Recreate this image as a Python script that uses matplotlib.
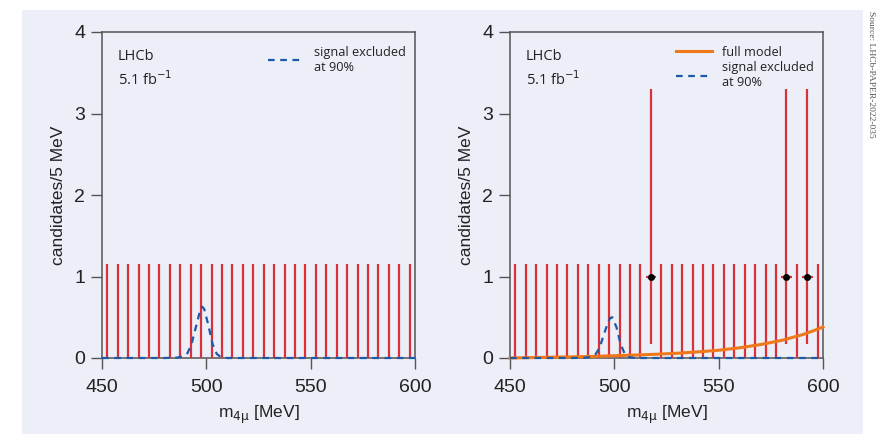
import numpy as np
import matplotlib
matplotlib.use("Agg")
import matplotlib.pyplot as plt

# ---- data ----
bin_centres = [452.5 + 5 * i for i in range(30)]
counts_left = [0] * 30
counts_right = [0] * 30
for m in (517.5, 582.5, 592.5):
    counts_right[bin_centres.index(m)] = 1
# Poisson 68% intervals
err_lo = {0: 0.0, 1: 0.83}
err_hi = {0: 1.15, 1: 2.30}

sig_x = [450, 480, 486, 489, 491, 493, 495, 497, 498, 499, 501, 503, 505, 507, 510, 600]
sig_left = [0, 0, 0.005, 0.02, 0.06, 0.18, 0.38, 0.58, 0.63, 0.60, 0.40, 0.17, 0.05, 0.01, 0, 0]
sig_right = [0, 0, 0.004, 0.015, 0.045, 0.13, 0.29, 0.44, 0.49, 0.50, 0.38, 0.17, 0.05, 0.01, 0, 0]

model_x = [450, 460, 470, 480, 490, 500, 510, 520, 530, 540, 550, 560, 570, 580, 585, 590, 595, 600]
model_y = [0.0, 0.005, 0.01, 0.014, 0.02, 0.028, 0.036, 0.046, 0.058, 0.075, 0.095, 0.125, 0.165, 0.215, 0.25, 0.285, 0.33, 0.38]

RED = "#d9303a"
BLUE = "#1c5aa8"
ORANGE = "#f07818"
BG = "#eceff8"

plt.rcParams['font.family'] = ['Liberation Sans', 'DejaVu Sans']

fig = plt.figure(figsize=(8.91, 4.34), dpi=100)
fig.patch.set_facecolor("white")
fig.patches.append(matplotlib.patches.Rectangle((22 / 891, 0), (863 - 22) / 891, 1 - 10 / 434,
                                                transform=fig.transFigure, facecolor=BG,
                                                edgecolor="none", zorder=-10))

def panel(rect, counts, sig, with_model):
    ax = fig.add_axes(rect)
    ax.set_facecolor(BG)
    ax.set_xlim(450, 600)
    ax.set_ylim(0, 4)
    x = np.array(bin_centres)
    c = np.array(counts)
    lo = np.array([err_lo[v] for v in counts])
    hi = np.array([err_hi[v] for v in counts])
    ax.vlines(x, c - lo, c + hi, color=RED, lw=1.6, zorder=3)
    m = c > 0
    if m.any():
        ax.hlines(c[m], x[m] - 2.5, x[m] + 2.5, color=RED, lw=1.6, zorder=3)
        ax.plot(x[m], c[m], 'o', color='black', ms=4, zorder=4)
    if with_model:
        ax.plot(model_x, model_y, color=ORANGE, lw=2.2, zorder=5, label="full model",
                clip_on=False)
    ax.plot(sig_x, sig, color=BLUE, lw=1.6, ls=(0, (3, 2.5)), zorder=6,
            label="signal excluded\nat 90%", clip_on=False)
    ax.set_xticks([450, 500, 550, 600])
    ax.set_yticks([0, 1, 2, 3, 4])
    ax.tick_params(direction='out', length=8, width=1, color="#555555",
                   labelsize=14, pad=4, labelcolor="#222222")
    ax.tick_params(axis='x', pad=7)
    for s in ax.spines.values():
        s.set_color("#555555")
        s.set_linewidth(1.1)
        s.set_zorder(2)
    ax.set_xlabel(r"m$_{4\mathrm{\mu}}$ [MeV]", fontsize=12.5, color="#222222", labelpad=6)
    ax.set_ylabel("candidates/5 MeV", fontsize=12.5, color="#222222", labelpad=6)
    ax.text(0.05, 0.925, "LHCb", transform=ax.transAxes, fontsize=10.5,
            family=['Open Sans', 'DejaVu Sans'], color="#222222", va='center')
    ax.text(0.05, 0.855, r"5.1 fb$^{-1}$", transform=ax.transAxes, fontsize=10.5,
            family=['Open Sans', 'DejaVu Sans'], color="#222222", va='center')
    leg = ax.legend(loc='upper right', bbox_to_anchor=(1.0, 0.985), frameon=False,
                    prop={'family': ['Open Sans', 'DejaVu Sans'], 'size': 9.2},
                    handlelength=2.8, labelspacing=0.2, borderaxespad=0.3,
                    handletextpad=0.8)
    for t in leg.get_texts():
        t.set_color("#222222")
    return ax

panel([102 / 891, 1 - 358 / 434, 313 / 891, 326 / 434], counts_left, sig_left, False)
panel([510 / 891, 1 - 358 / 434, 313 / 891, 326 / 434], counts_right, sig_right, True)

fig.text(867 / 891, 1 - 11 / 434, "Source: LHCb-PAPER-2022-035", rotation=-90,
         fontsize=6.8, family=['Liberation Serif', 'DejaVu Serif'], color="#555555",
         ha='left', va='top')

fig.savefig("out.png", dpi=100, facecolor="white")
